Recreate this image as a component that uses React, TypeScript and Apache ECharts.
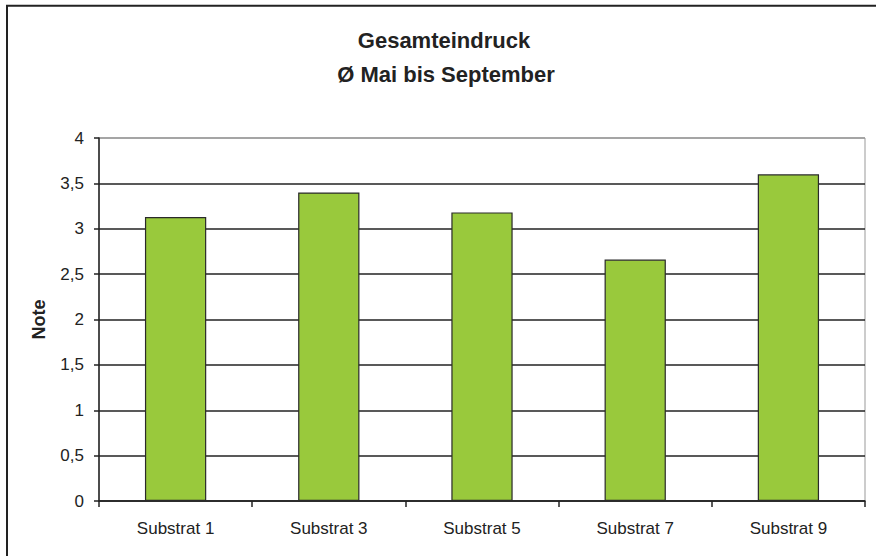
import React, { useEffect, useRef } from "react";
import * as echarts from "echarts";

// Substrate variants and their average rating (May to September)
const categories: string[] = ["Substrat 1", "Substrat 3", "Substrat 5", "Substrat 7", "Substrat 9"];
const noteValues: number[] = [3.13, 3.4, 3.18, 2.66, 3.6];
const yTicks: number[] = [0, 0.5, 1, 1.5, 2, 2.5, 3, 3.5, 4];

const titleLines: string[] = ["Gesamteindruck", "Ø Mai bis September"];

const FONT = '"Liberation Sans", Arial, sans-serif';

export default function App() {
  const ref = useRef<HTMLDivElement>(null);

  useEffect(() => {
    if (!ref.current) return;
    const chart = echarts.init(ref.current, undefined, { renderer: "svg" });

    // the top split line sits on the plot border and is drawn grey like it
    const splitColors = yTicks.map((_, i) => (i === yTicks.length - 1 ? "#999999" : "#222222"));

    chart.setOption({
      animation: false,
      backgroundColor: "#ffffff",
      textStyle: { fontFamily: FONT },
      grid: {
        left: 99,
        right: 11,
        top: 138,
        bottom: 55,
        show: true,
        borderColor: "#999999",
        borderWidth: 1,
        backgroundColor: "transparent",
      },
      graphic: [
        {
          type: "rect",
          shape: { x: 7, y: 5.7, width: 900, height: 600 },
          style: { fill: "none", stroke: "#222222", lineWidth: 2 },
          silent: true,
        },
        {
          type: "text",
          x: 444,
          y: 40,
          style: {
            text: titleLines[0],
            font: `bold 22px ${FONT}`,
            fill: "#222222",
            textAlign: "center",
            textVerticalAlign: "middle",
            align: "center",
            verticalAlign: "middle",
          },
        },
        {
          type: "text",
          x: 446,
          y: 74,
          style: {
            text: titleLines[1],
            font: `bold 22px ${FONT}`,
            fill: "#222222",
            textAlign: "center",
            textVerticalAlign: "middle",
            align: "center",
            verticalAlign: "middle",
          },
        },
      ],
      xAxis: {
        type: "category",
        data: categories,
        boundaryGap: true,
        axisLine: { show: true, lineStyle: { color: "#222222", width: 1.5 } },
        axisTick: { show: true, length: 6, alignWithLabel: false, lineStyle: { color: "#222222", width: 1.5 } },
        axisLabel: { color: "#222222", fontSize: 17, fontFamily: FONT, margin: 19 },
        splitLine: { show: false },
      },
      yAxis: {
        type: "value",
        min: 0,
        max: 4,
        interval: 0.5,
        name: "Note",
        nameLocation: "middle",
        nameRotate: 90,
        nameGap: 51,
        nameTextStyle: { color: "#222222", fontSize: 18, fontWeight: "bold", fontFamily: FONT },
        axisLine: { show: true, lineStyle: { color: "#222222", width: 1.5 } },
        axisTick: { show: true, length: 5, lineStyle: { color: "#222222", width: 1.5 } },
        axisLabel: {
          color: "#222222",
          fontSize: 17,
          fontFamily: FONT,
          margin: 15,
          formatter: (v: number) => String(v).replace(".", ","),
        },
        splitLine: { show: true, lineStyle: { color: splitColors, width: 1.5 } },
      },
      series: [
        {
          type: "bar",
          data: noteValues,
          barWidth: "40%",
          itemStyle: { color: "#99C93C", borderColor: "#2a2a2a", borderWidth: 1.2 },
        },
      ],
    });

    return () => chart.dispose();
  }, []);

  return (
    <div
      ref={ref}
      style={{ position: "fixed", left: 0, top: 0, width: 876, height: 556, background: "#fff" }}
    />
  );
}
